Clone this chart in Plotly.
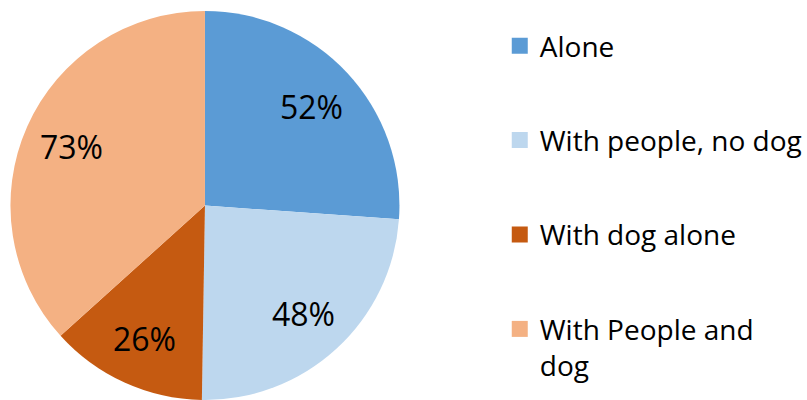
import math
import plotly.graph_objects as go

categories = ["Alone", "With people, no dog", "With dog alone", "With People and<br>dog"]
values = [52, 48, 26, 73]
colors = ["#5B9BD5", "#BDD7EE", "#C55A11", "#F4B183"]

FONT = "Open Sans"
W, H = 807, 400
DOM_X = [0.0112, 0.498]
DOM_Y = [0.0, 0.9725]
LABEL_R = 0.75  # label distance as a fraction of the radius

fig = go.Figure()
fig.add_trace(go.Pie(
    labels=categories,
    values=values,
    marker=dict(colors=colors, line=dict(width=0)),
    sort=False,
    direction="clockwise",
    rotation=0,
    textinfo="none",
    showlegend=False,
    hoverinfo="label+value",
    domain=dict(x=DOM_X, y=DOM_Y),
))

# value labels, placed at the middle angle of each slice
cx = (DOM_X[0] + DOM_X[1]) / 2 * W
cy = (DOM_Y[0] + DOM_Y[1]) / 2 * H
r = min((DOM_X[1] - DOM_X[0]) * W, (DOM_Y[1] - DOM_Y[0]) * H) / 2
total = sum(values)
cum = 0.0
for v in values:
    mid = (cum + v / 2) / total * 2 * math.pi
    cum += v
    px = cx + LABEL_R * r * math.sin(mid)
    py = cy + LABEL_R * r * math.cos(mid)
    fig.add_annotation(
        x=px / W, y=py / H, xref="paper", yref="paper",
        text=f"{v}%", showarrow=False,
        font=dict(family=FONT, size=32, color="black"),
        xanchor="center", yanchor="middle",
    )

# legend entries (one group each, so the gap between them can be set)
for i, (c, col) in enumerate(zip(categories, colors)):
    fig.add_trace(go.Scatter(
        x=[None], y=[None], mode="markers", name=c,
        marker=dict(symbol="square", size=16, color=col),
        legendgroup=f"g{i}", showlegend=True, hoverinfo="skip",
    ))

fig.update_layout(
    width=W, height=H,
    margin=dict(l=0, r=0, t=0, b=0),
    paper_bgcolor="white", plot_bgcolor="white",
    xaxis=dict(visible=False), yaxis=dict(visible=False),
    legend=dict(
        x=501 / W, y=1 - 21 / H, xanchor="left", yanchor="top",
        font=dict(family=FONT, size=28, color="black"),
        tracegroupgap=55, valign="top", traceorder="grouped",
        bgcolor="rgba(0,0,0,0)",
    ),
)

fig.write_html(
    "out.html",
    config={"displayModeBar": False},
    post_script="document.body.style.margin='0';",
)
